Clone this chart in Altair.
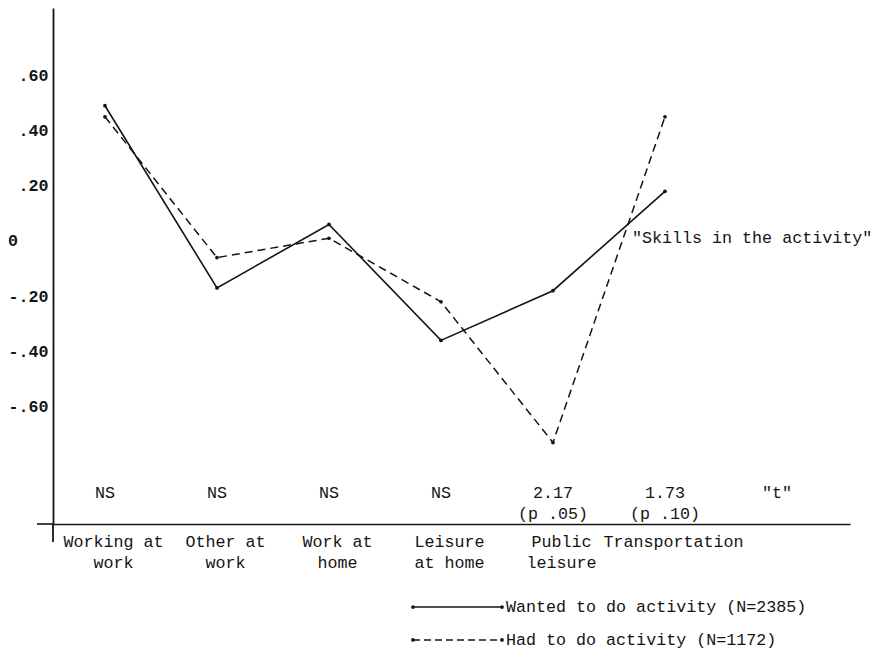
import json
import altair as alt
import pandas as pd

# ---------------- data ----------------
categories = ["Working at work", "Other at work", "Work at home",
              "Leisure at home", "Public leisure", "Transportation"]
category_lines = [["Working at", "work"], ["Other at", "work"], ["Work at", "home"],
                  ["Leisure", "at home"], ["Public", "leisure"], ["Transportation"]]
wanted = [0.49, -0.17, 0.06, -0.36, -0.18, 0.18]
had = [0.45, -0.06, 0.01, -0.22, -0.73, 0.45]
t_values = ["NS", "NS", "NS", "NS", "2.17\n(p .05)", "1.73\n(p .10)", '"t"']
y_ticks = [0.6, 0.4, 0.2, 0, -0.2, -0.4, -0.6]
y_tick_labels = [".60", ".40", ".20", "0", "-.20", "-.40", "-.60"]
series = ["Wanted to do activity (N=2385)", "Had to do activity (N=1172)"]
annotation = '"Skills in the activity"'

# ---------------- style ----------------
FONT = "Liberation Mono"
FS = 16.7
INK = "#141414"
W, H = 797, 516

x_scale = alt.Scale(domain=[-0.464, 6.652], nice=False, zero=False)
y_scale = alt.Scale(domain=[-1.025, 0.844], nice=False, zero=False)

x_axis = alt.Axis(
    values=list(range(len(categories))),
    labelExpr=f"{json.dumps(category_lines)}[datum.value]",
    ticks=False, grid=False, domain=True, domainColor=INK, domainWidth=1.6,
    labelFont=FONT, labelFontSize=FS, labelColor=INK, labelAlign="center",
    labelBaseline="top", labelPadding=9, labelLineHeight=21, labelOffset=8,
    labelOverlap=False, labelFlush=False, title=None,
)
# the typed "0" sits further left than the other tick labels: it is drawn as its own text
axis_ticks = [v for v in y_ticks if v != 0]
y_axis = alt.Axis(
    values=axis_ticks,
    labelExpr=f"{json.dumps(y_tick_labels)}[indexof({json.dumps(y_ticks)}, datum.value)]",
    ticks=False, grid=False, domain=True, domainColor=INK, domainWidth=1.8,
    labelFont=FONT, labelFontSize=FS, labelFontWeight="bold", labelColor=INK,
    labelPadding=5, labelOverlap=False, labelFlush=False, title=None,
)


def X(field):
    return alt.X(field, scale=x_scale, axis=x_axis)


def Y(field):
    return alt.Y(field, scale=y_scale, axis=y_axis)


def XD(v):
    return alt.XDatum(v, type="quantitative", scale=x_scale, axis=x_axis)


def X2D(v):
    return alt.X2Datum(v)


def YD(v):
    return alt.YDatum(v, type="quantitative", scale=y_scale, axis=y_axis)


idx = list(range(len(categories)))
df_w = pd.DataFrame({"idx": idx, "value": wanted, "category": categories})
df_h = pd.DataFrame({"idx": idx, "value": had, "category": categories})

wanted_line = alt.Chart(df_w).mark_line(color=INK, strokeWidth=1.6).encode(
    x=X("idx:Q"), y=Y("value:Q"))
had_line = alt.Chart(df_h).mark_line(color=INK, strokeWidth=1.5, strokeDash=[8, 5]).encode(
    x=X("idx:Q"), y=Y("value:Q"))
dots = alt.Chart(pd.concat([df_w, df_h])).mark_point(
    filled=True, size=14, color=INK, opacity=1).encode(x=X("idx:Q"), y=Y("value:Q"))

# zero tick label
zero_lab = alt.Chart(pd.DataFrame({"v": [0], "lab": [y_tick_labels[y_ticks.index(0)]]})).mark_text(
    font=FONT, fontSize=FS, fontWeight="bold", color=INK, align="center", baseline="middle",
).encode(x=alt.value(-40), y=Y("v:Q"), text="lab:N")

# t-values row
df_t = pd.DataFrame({"idx": list(range(len(t_values))), "t": t_values})
t_row = alt.Chart(df_t).mark_text(
    font=FONT, fontSize=FS, color=INK, align="center", baseline="alphabetic",
    lineBreak="\n", lineHeight=21,
).encode(x=X("idx:Q"), y=YD(-0.931), text="t:N")

# annotation
note = alt.Chart(pd.DataFrame({"t": [annotation]})).mark_text(
    font=FONT, fontSize=FS, color=INK, align="left", baseline="middle",
).encode(x=XD(4.705), y=YD(0.012), text="t:N")

# axis extensions (x axis runs a little left of y axis, y axis a little below x axis)
one = pd.DataFrame({"a": [0]})
x_ext = alt.Chart(one).mark_rule(color=INK, strokeWidth=1.6).encode(
    x=alt.value(-16), x2=alt.value(0), y=alt.value(H))
y_ext = alt.Chart(one).mark_rule(color=INK, strokeWidth=1.8).encode(
    x=alt.value(0), y=alt.value(H), y2=alt.value(H + 18))

# custom legend
LEG_X0, LEG_X1, LEG_TX = 2.75, 3.545, 3.58
LEG_Y = [-1.326, -1.445]
legend_layers = []
for i, dash in enumerate([None, [7, 4]]):
    rule_kw = dict(color=INK, strokeWidth=1.5)
    if dash:
        rule_kw["strokeDash"] = dash
    legend_layers.append(
        alt.Chart(one).mark_rule(**rule_kw).encode(
            x=XD(LEG_X0), x2=X2D(LEG_X1), y=YD(LEG_Y[i]))
    )
    legend_layers.append(
        alt.Chart(pd.DataFrame({"px": [LEG_X0, LEG_X1]})).mark_point(
            filled=True, size=14, color=INK, opacity=1).encode(
            x=X("px:Q"), y=YD(LEG_Y[i]))
    )
    legend_layers.append(
        alt.Chart(pd.DataFrame({"label": [series[i]]})).mark_text(
            font=FONT, fontSize=FS, color=INK, align="left", baseline="middle").encode(
            x=XD(LEG_TX), y=YD(LEG_Y[i]), text="label:N")
    )

chart = alt.layer(
    wanted_line, had_line, dots, zero_lab, t_row, note, x_ext, y_ext, *legend_layers
).properties(
    width=W, height=H,
    autosize=alt.AutoSizeParams(type="none"),
    padding={"left": 45, "top": 0, "right": 25, "bottom": 132},
    background="white",
).configure_view(stroke=None)

chart.save("out.html", embed_options={"renderer": "svg", "actions": False})
